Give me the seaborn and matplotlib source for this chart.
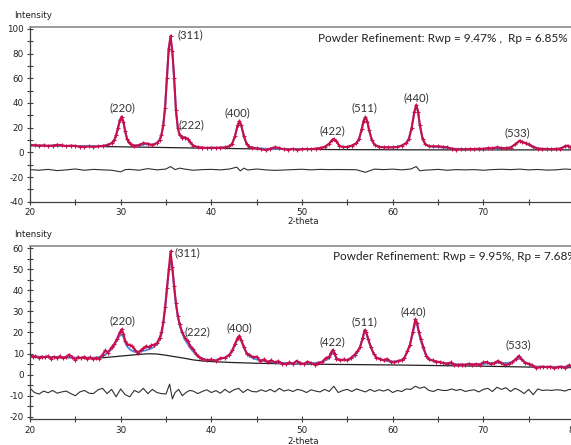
import matplotlib
matplotlib.use("Agg")
import matplotlib.pyplot as plt
from matplotlib.ticker import MultipleLocator
import seaborn as sns

# ---------------- top pattern ----------------
x_top = [20.0, 20.5, 21.0, 21.5, 22.0, 22.5, 23.0, 23.5, 24.0, 24.5,
         25.0, 25.5, 26.0, 26.5, 27.0, 27.5, 28.0, 28.5, 29.0, 29.3,
         29.5, 29.7, 29.9, 30.1, 30.3, 30.5, 30.7, 30.9, 31.2, 31.5,
         32.0, 32.5, 33.0, 33.5, 34.0, 34.3, 34.5, 34.7, 34.9, 35.1,
         35.3, 35.5, 35.7, 35.9, 36.1, 36.3, 36.5, 36.8, 37.1, 37.4,
         37.7, 38.0, 38.5, 39.0, 39.5, 40.0, 40.5, 41.0, 41.5, 42.0,
         42.3, 42.6, 42.9, 43.1, 43.3, 43.6, 43.9, 44.2, 44.5, 45.0,
         45.5, 46.0, 46.5, 47.0, 47.5, 48.0, 48.5, 49.0, 49.5, 50.0,
         50.5, 51.0, 51.5, 52.0, 52.5, 53.0, 53.3, 53.5, 53.8, 54.1,
         54.5, 55.0, 55.5, 56.0, 56.3, 56.6, 56.8, 57.0, 57.2, 57.4,
         57.7, 58.0, 58.5, 59.0, 59.5, 60.0, 60.5, 61.0, 61.5, 61.8,
         62.1, 62.4, 62.6, 62.8, 63.0, 63.3, 63.6, 64.0, 64.5, 65.0,
         65.5, 66.0, 66.5, 67.0, 67.5, 68.0, 68.5, 69.0, 69.5, 70.0,
         70.5, 71.0, 71.5, 72.0, 72.5, 73.0, 73.5, 74.0, 74.3, 74.7,
         75.0, 75.5, 76.0, 76.5, 77.0, 77.5, 78.0, 78.5, 79.0, 79.3,
         79.6, 80.0]
obs_top = [6.0, 5.8, 5.5, 5.6, 5.2, 5.5, 6.2, 5.8, 5.0, 5.5,
           5.2, 4.6, 4.4, 4.8, 4.5, 4.8, 5.2, 5.8, 7.5, 10.0,
           14.0, 19.5, 26.0, 29.0, 25.0, 17.0, 11.0, 8.0, 6.0, 5.2,
           5.8, 7.5, 7.0, 5.8, 7.5, 10.0, 14.0, 22.0, 36.0, 60.0,
           84.0, 94.5, 82.0, 60.0, 34.0, 20.0, 14.0, 12.0, 12.0, 11.0,
           8.0, 5.5, 4.2, 3.8, 3.5, 3.8, 3.6, 3.8, 4.0, 5.0,
           7.0, 13.0, 22.0, 25.5, 22.0, 13.0, 6.5, 4.5, 3.8, 3.2,
           2.5, 1.8, 3.0, 4.2, 3.5, 2.5, 2.2, 2.8, 2.2, 2.5,
           2.8, 2.5, 3.0, 3.5, 4.5, 7.0, 9.8, 10.8, 9.0, 5.5,
           4.3, 4.5, 5.5, 7.5, 11.0, 19.0, 25.5, 28.5, 25.0, 18.0,
           10.0, 6.0, 4.5, 4.0, 4.2, 4.0, 4.3, 5.5, 7.5, 11.0,
           20.0, 33.0, 38.5, 33.0, 22.0, 11.0, 6.5, 5.0, 4.8, 5.0,
           4.5, 4.2, 3.0, 2.3, 2.6, 2.4, 2.8, 2.6, 3.0, 2.8,
           3.5, 3.2, 4.2, 3.5, 3.2, 3.8, 6.5, 9.5, 8.5, 7.3,
           6.5, 4.5, 3.0, 2.7, 2.8, 2.6, 2.8, 3.0, 5.0, 5.5,
           4.0, 3.2]
calc_top = [5.6, 5.6, 5.5, 5.5, 5.4, 5.4, 5.4, 5.3, 5.3, 5.2,
            5.2, 5.1, 5.0, 5.0, 5.0, 5.1, 5.3, 5.8, 7.3, 9.8,
            13.8, 19.5, 25.5, 28.0, 24.5, 17.0, 11.0, 8.0, 6.2, 5.6,
            5.8, 6.5, 6.6, 6.2, 7.8, 10.2, 14.5, 22.5, 37.0, 61.0,
            84.0, 92.0, 81.0, 59.0, 33.5, 20.0, 14.5, 12.8, 12.2, 10.5,
            7.5, 5.5, 4.3, 3.9, 3.7, 3.7, 3.7, 3.8, 4.1, 5.0,
            7.2, 13.0, 21.5, 25.0, 21.5, 12.5, 6.8, 4.7, 3.9, 3.4,
            3.1, 2.9, 2.8, 2.8, 2.7, 2.7, 2.6, 2.6, 2.6, 2.6,
            2.6, 2.7, 2.9, 3.3, 4.3, 7.0, 9.8, 10.5, 8.6, 5.6,
            4.3, 4.3, 5.2, 7.3, 11.0, 19.5, 26.0, 28.8, 25.5, 18.0,
            10.2, 6.2, 4.5, 4.1, 4.0, 4.1, 4.5, 5.5, 7.8, 11.5,
            20.5, 33.0, 38.0, 33.0, 21.5, 11.0, 6.8, 5.0, 4.5, 4.2,
            3.9, 3.6, 3.2, 2.9, 2.8, 2.7, 2.7, 2.7, 2.8, 2.8,
            2.9, 3.0, 3.2, 3.4, 3.6, 4.2, 6.2, 9.0, 8.6, 7.2,
            6.0, 4.5, 3.4, 2.9, 2.7, 2.7, 2.8, 3.2, 4.6, 5.0,
            4.2, 3.3]
bkg_x_top = [20, 25, 30, 35, 40, 45, 50, 55, 60, 65, 70, 75, 80]
bkg_top = [5.5, 5.0, 4.5, 3.9, 3.3, 2.8, 2.4, 2.2, 2.1, 2.0, 2.0, 2.0, 2.0]
diff_x_top = [20, 21, 22, 23, 24, 25, 26, 27, 28, 29, 30, 30.5, 31, 32, 33, 34, 35, 35.5,
              36, 36.5, 37, 38, 39, 40, 41, 42, 42.8, 43.2, 43.6, 44, 45, 46, 47, 48,
              49, 50, 51, 52, 53, 54, 55, 56, 57, 57.5, 58, 59, 60, 61, 62, 62.6, 63,
              63.5, 64, 65, 66, 67, 68, 69, 70, 71, 72, 73, 74, 75, 76, 77, 78, 79, 80]
diff_top = [-14.0, -14.5, -13.8, -14.8, -14.2, -13.5, -14.5, -13.8, -14.2, -14.5, -15.8, -14.0,
            -13.8, -14.5, -13.2, -14.2, -13.5, -11.5, -14.0, -12.8, -13.5, -14.5, -14.0, -13.8,
            -14.2, -13.5, -12.0, -15.0, -12.8, -14.3, -13.5, -14.2, -14.6, -14.3, -14.0, -13.7,
            -14.2, -13.8, -14.0, -13.9, -14.0, -14.1, -16.2, -14.8, -13.6, -14.0, -13.6, -14.2,
            -13.5, -11.5, -15.0, -14.4, -14.3, -13.8, -14.5, -14.0, -14.2, -14.0, -14.5, -14.0,
            -13.7, -14.0, -13.6, -14.2, -13.9, -14.4, -14.2, -13.5, -14.0]
hkl_top = ["(220)", "(311)", "(222)", "(400)", "(422)", "(511)", "(440)", "(533)"]
hkl_x_top = [30.25, 36.3, 37.8, 42.9, 53.4, 56.9, 62.6, 73.8]
hkl_y_top = [36.0, 95.0, 22.0, 32.0, 17.5, 36.0, 44.0, 15.7]
hkl_ha_top = ["center", "left", "center", "center", "center", "center", "center", "center"]
title_top = "Powder Refinement: Rwp = 9.47% ,  Rp = 6.85%"
xticks_top = [20, 30, 40, 50, 60, 70]

# ---------------- bottom pattern ----------------
x_bot = [20.0, 20.3, 20.6, 21.0, 21.3, 21.6, 22.0, 22.3, 22.6, 23.0,
         23.3, 23.6, 24.0, 24.3, 24.6, 25.0, 25.3, 25.6, 26.0, 26.3,
         26.6, 27.0, 27.3, 27.6, 28.0, 28.3, 28.6, 29.0, 29.3, 29.6,
         29.9, 30.1, 30.3, 30.5, 30.7, 31.0, 31.3, 31.6, 31.9, 32.2,
         32.5, 32.8, 33.1, 33.4, 33.7, 34.0, 34.3, 34.5, 34.7, 34.9,
         35.1, 35.3, 35.5, 35.7, 35.9, 36.1, 36.3, 36.5, 36.8, 37.1,
         37.4, 37.7, 38.0, 38.3, 38.6, 39.0, 39.5, 40.0, 40.5, 41.0,
         41.5, 42.0, 42.3, 42.6, 42.9, 43.1, 43.3, 43.6, 43.9, 44.2,
         44.6, 45.0, 45.4, 45.8, 46.2, 46.6, 47.0, 47.4, 47.8, 48.2,
         48.6, 49.0, 49.4, 49.8, 50.2, 50.6, 51.0, 51.4, 51.8, 52.2,
         52.6, 53.0, 53.2, 53.4, 53.6, 53.8, 54.2, 54.6, 55.0, 55.4,
         55.8, 56.1, 56.4, 56.7, 56.9, 57.1, 57.3, 57.6, 57.9, 58.2,
         58.6, 59.0, 59.4, 59.8, 60.2, 60.6, 61.0, 61.3, 61.6, 61.9,
         62.2, 62.5, 62.7, 62.9, 63.1, 63.4, 63.7, 64.0, 64.4, 64.8,
         65.2, 65.6, 66.0, 66.4, 66.8, 67.2, 67.6, 68.0, 68.4, 68.8,
         69.2, 69.6, 70.0, 70.4, 70.8, 71.2, 71.6, 72.0, 72.4, 72.8,
         73.2, 73.6, 73.9, 74.2, 74.6, 75.0, 75.4, 75.8, 76.2, 76.6,
         77.0, 77.4, 77.8, 78.2, 78.6, 79.0, 79.4, 79.8, 80.0]
obs_bot = [9.5, 8.5, 8.8, 8.0, 8.6, 8.2, 8.8, 7.6, 8.5, 8.0,
           8.8, 7.8, 8.5, 9.5, 8.6, 7.0, 8.3, 7.8, 8.5, 7.6,
           8.2, 7.2, 8.0, 7.5, 9.5, 11.5, 10.5, 13.0, 14.5, 17.0,
           20.0, 21.5, 19.5, 16.0, 14.5, 14.0, 13.5, 11.5, 10.3, 11.5,
           12.5, 13.5, 13.0, 14.0, 14.2, 15.0, 17.5, 20.0, 25.0, 32.0,
           41.0, 50.0, 58.5, 51.0, 42.0, 34.0, 28.0, 24.0, 20.0, 17.5,
           16.0, 13.5, 12.0, 10.0, 8.5, 7.5, 6.8, 7.2, 6.5, 7.8,
           8.0, 9.5, 11.5, 14.5, 17.5, 18.5, 16.5, 13.0, 10.0, 9.5,
           8.2, 8.5, 6.5, 7.2, 6.0, 6.8, 5.8, 6.4, 5.2, 5.0,
           5.8, 5.2, 6.5, 5.5, 5.0, 6.2, 5.5, 4.8, 5.6, 6.0,
           7.8, 8.5, 10.5, 11.8, 10.0, 7.5, 6.8, 7.2, 6.8, 8.0,
           9.5, 11.0, 13.0, 17.5, 21.2, 20.0, 17.0, 13.0, 10.0, 8.0,
           7.5, 6.8, 7.5, 6.0, 5.8, 6.5, 6.8, 8.0, 11.0, 14.0,
           20.0, 26.3, 24.5, 20.0, 17.0, 13.0, 9.0, 7.2, 6.8, 6.2,
           6.0, 5.5, 5.2, 5.8, 4.8, 4.5, 4.8, 4.6, 5.2, 4.8,
           5.0, 4.8, 5.8, 6.0, 5.0, 5.5, 6.5, 5.5, 4.5, 5.0,
           6.0, 7.5, 8.9, 7.5, 5.5, 5.2, 4.5, 3.2, 3.5, 3.8,
           3.5, 3.8, 3.0, 3.5, 3.8, 3.2, 4.5, 4.0, 4.2]
calc_bot = [8.6, 8.6, 8.5, 8.5, 8.4, 8.4, 8.4, 8.3, 8.3, 8.3,
            8.2, 8.2, 8.2, 8.2, 8.1, 8.1, 8.1, 8.0, 8.0, 8.0,
            8.0, 8.0, 8.1, 8.3, 8.8, 9.5, 10.5, 12.0, 14.0, 16.5,
            18.5, 19.0, 18.0, 15.5, 13.5, 12.0, 11.2, 10.8, 10.8, 11.0,
            11.3, 11.6, 12.0, 12.5, 13.2, 14.5, 16.5, 19.0, 24.0, 31.0,
            40.0, 49.0, 55.0, 50.0, 41.0, 33.0, 27.5, 23.5, 19.5, 16.5,
            14.5, 12.5, 11.0, 9.5, 8.5, 7.6, 7.0, 6.9, 7.0, 7.4,
            8.0, 9.2, 11.0, 14.0, 16.8, 17.5, 16.0, 12.8, 10.2, 8.8,
            7.8, 7.2, 6.8, 6.5, 6.2, 6.0, 5.8, 5.7, 5.6, 5.5,
            5.4, 5.3, 5.3, 5.3, 5.3, 5.3, 5.4, 5.5, 5.7, 6.0,
            6.8, 7.8, 9.5, 10.5, 9.5, 8.0, 7.0, 6.8, 7.0, 7.6,
            8.8, 10.5, 13.0, 17.5, 20.5, 19.5, 16.5, 12.8, 10.0, 8.3,
            7.2, 6.8, 6.5, 6.3, 6.3, 6.5, 7.0, 8.2, 10.5, 14.0,
            19.5, 24.5, 23.5, 20.0, 16.0, 12.0, 9.0, 7.5, 6.6, 6.1,
            5.8, 5.5, 5.3, 5.1, 5.0, 4.9, 4.8, 4.8, 4.8, 4.8,
            4.9, 5.0, 5.1, 5.3, 5.4, 5.5, 5.6, 5.6, 5.5, 5.6,
            6.0, 7.0, 8.0, 7.5, 6.0, 5.0, 4.3, 3.9, 3.8, 3.7,
            3.7, 3.7, 3.7, 3.7, 3.7, 3.8, 3.9, 3.9, 3.9]
bkg_x_bot = [20, 22, 24, 26, 28, 30, 32, 33, 34, 35, 36, 37, 38, 39, 40, 42, 45, 50, 55,
             60, 65, 70, 75, 80]
bkg_bot = [8.5, 8.3, 8.1, 7.9, 8.0, 8.8, 9.6, 9.9, 9.8, 9.2, 8.5, 7.8, 7.0, 6.5, 6.2, 5.8,
           5.4, 5.0, 4.8, 4.6, 4.3, 4.0, 3.6, 3.3]
diff_x_bot = [20, 20.5, 21, 21.5, 22, 22.5, 23, 23.5, 24, 24.5, 25, 25.5, 26, 26.5, 27, 27.5,
              28, 28.5, 29, 29.5, 30, 30.5, 31, 31.5, 32, 32.5, 33, 33.5, 34, 34.5, 35, 35.4,
              35.7, 36.0, 36.4, 36.8, 37.2, 37.6, 38, 38.5, 39, 39.5, 40, 40.5, 41, 41.5, 42,
              42.5, 43, 43.5, 44, 44.5, 45, 45.5, 46, 46.5, 47, 47.5, 48, 48.5, 49, 49.5, 50,
              50.5, 51, 51.5, 52, 52.5, 53, 53.5, 54, 54.5, 55, 55.5, 56, 56.5, 57, 57.5, 58,
              58.5, 59, 59.5, 60, 60.5, 61, 61.5, 62, 62.5, 63, 63.5, 64, 64.5, 65, 65.5, 66,
              66.5, 67, 67.5, 68, 68.5, 69, 69.5, 70, 70.5, 71, 71.5, 72, 72.5, 73, 73.5, 74,
              74.5, 75, 75.5, 76, 76.5, 77, 77.5, 78, 78.5, 79, 79.5, 80]
diff_bot = [-6.5, -8.5, -9.2, -7.8, -8.6, -7.5, -8.8, -8.2, -7.8, -9.0, -10.0, -8.2, -7.5,
            -8.8, -9.0, -7.2, -6.5, -9.0, -7.0, -10.5, -6.8, -9.5, -10.5, -7.5, -8.5, -6.5,
            -9.0, -7.0, -8.5, -9.0, -9.2, -4.5, -11.5, -8.5, -7.0, -10.0, -8.5, -7.5, -7.8,
            -9.0, -8.0, -7.2, -8.5, -7.6, -8.8, -7.0, -8.5, -7.2, -6.5, -8.5, -7.0, -8.0,
            -8.2, -7.2, -8.0, -7.0, -8.2, -6.5, -7.8, -7.2, -8.0, -7.0, -7.5, -8.5, -7.2,
            -7.8, -8.2, -7.0, -8.0, -5.5, -8.5, -7.5, -7.0, -8.0, -6.8, -7.5, -8.2, -7.0,
            -8.0, -7.2, -7.8, -7.0, -8.5, -7.5, -8.0, -6.8, -7.0, -5.5, -6.5, -5.8, -7.5,
            -8.0, -7.0, -7.5, -7.5, -6.8, -7.5, -7.0, -8.0, -7.5, -7.2, -8.2, -7.0, -6.5,
            -8.0, -6.0, -7.0, -6.2, -8.0, -6.5, -7.5, -9.0, -7.0, -9.5, -6.8, -7.5, -7.3,
            -7.5, -7.2, -7.3, -7.8, -7.0, -7.2]
hkl_bot = ["(220)", "(311)", "(222)", "(400)", "(422)", "(511)", "(440)", "(533)"]
hkl_x_bot = [30.2, 35.95, 38.5, 43.1, 53.3, 56.9, 62.3, 73.9]
hkl_y_bot = [25.5, 57.6, 20.1, 22.0, 15.4, 25.2, 29.9, 14.4]
hkl_ha_bot = ["center", "left", "center", "center", "center", "center", "center", "center"]
title_bot = "Powder Refinement: Rwp = 9.95%, Rp = 7.68%"
xticks_bot = [20, 30, 40, 50, 60, 70, 80]

sns.set_style("white")
plt.rcParams["font.family"] = ["DejaVu Sans"]
plt.rcParams["axes.unicode_minus"] = False

OBS = "#c80f4e"
CALC = "#5a8de0"
DARK = "#202020"

fig = plt.figure(figsize=(5.71, 4.45), dpi=100)
W, H = 571.0, 445.0
ax1 = fig.add_axes([30 / W, (H - 201.7) / H, 544 / W, (201.7 - 27) / H])
ax2 = fig.add_axes([30 / W, (H - 419.3) / H, 544 / W, (419.3 - 245.7) / H])


def draw(ax, x, obs, calc, bx, bkg, dx, diff, labels, lx, ly, lha, ylim, ymaj, ymin, xt):
    sns.lineplot(x=bx, y=bkg, ax=ax, color=DARK, linewidth=0.9, estimator=None, sort=False)
    sns.lineplot(x=dx, y=diff, ax=ax, color="#303030", linewidth=0.8, estimator=None, sort=False)
    sns.lineplot(x=x, y=calc, ax=ax, color=CALC, linewidth=1.4, estimator=None, sort=False)
    sns.lineplot(x=x, y=obs, ax=ax, color=OBS, linewidth=1.5, estimator=None, sort=False,
                 marker="+", markersize=3.5, markeredgewidth=0.8, markeredgecolor=OBS)
    for t, xx, yy, ha in zip(labels, lx, ly, lha):
        ax.text(xx, yy, t, ha=ha, va="center", fontsize=8.2, family="Lato", color="#333333")
    ax.set_xlim(20, 80)
    ax.set_ylim(*ylim)
    ax.set_xticks(xt)
    ax.set_xticklabels([str(v) for v in xt])
    ax.xaxis.set_minor_locator(MultipleLocator(5))
    ax.yaxis.set_major_locator(MultipleLocator(ymaj))
    ax.yaxis.set_minor_locator(MultipleLocator(ymin))
    ax.tick_params(which="both", direction="inout", width=0.8, colors="#404040",
                   labelsize=6.3, labelcolor="#202020", left=True, bottom=True)
    ax.tick_params(which="major", length=5, pad=2)
    ax.tick_params(which="minor", length=4)
    ax.set_xlabel("")
    ax.set_ylabel("")
    for s in ("left", "bottom"):
        ax.spines[s].set_color("#404040")
        ax.spines[s].set_linewidth(0.9)
    ax.spines["top"].set_color("#8a8a8a")
    ax.spines["top"].set_linewidth(1.2)
    ax.spines["right"].set_visible(False)


draw(ax1, x_top, obs_top, calc_top, bkg_x_top, bkg_top, diff_x_top, diff_top,
     hkl_top, hkl_x_top, hkl_y_top, hkl_ha_top, (-40, 101.6), 20, 10, xticks_top)
draw(ax2, x_bot, obs_bot, calc_bot, bkg_x_bot, bkg_bot, diff_x_bot, diff_bot,
     hkl_bot, hkl_x_bot, hkl_y_bot, hkl_ha_bot, (-21.2, 61.2), 10, 5, xticks_bot)

fig.text(14 / W, 1 - 15 / H, "Intensity", fontsize=6.3, ha="left", va="center", color="#202020")
fig.text(14 / W, 1 - 235 / H, "Intensity", fontsize=6.3, ha="left", va="center", color="#202020")
fig.text(303 / W, 1 - 221 / H, "2-theta", fontsize=6.3, ha="center", va="center", color="#202020")
fig.text(303 / W, 1 - 441 / H, "2-theta", fontsize=6.3, ha="center", va="center", color="#202020")

fig.text(318 / W, 1 - 39 / H, title_top, fontsize=8.5, family="Lato", ha="left", va="center",
         color="#202020")
fig.text(333 / W, 1 - 256 / H, title_bot, fontsize=8.5, family="Lato", ha="left", va="center",
         color="#202020")

fig.savefig("out.png", dpi=100)
